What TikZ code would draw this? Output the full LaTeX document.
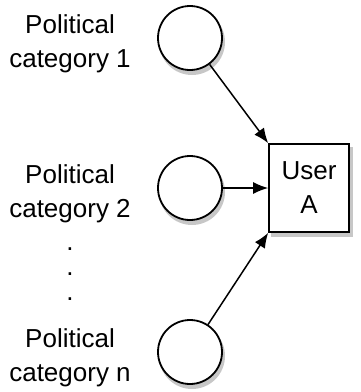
\documentclass[tikz,border=0pt]{standalone}
\usepackage{fontspec}
\setmainfont{Liberation Sans}
\usetikzlibrary{arrows.meta,backgrounds}
\tikzset{
  catlabel/.style={align=center,font=\fontsize{26}{34}\selectfont,inner sep=0pt},
  dotlabel/.style={font=\fontsize{26}{30}\selectfont,inner sep=0pt},
  shade/.style={fill=black!22},
  catnode/.style={circle,draw,line width=1.8pt,fill=white,minimum size=64pt,inner sep=0pt},
  userbox/.style={rectangle,draw,line width=1.6pt,fill=white,minimum width=80pt,minimum height=88pt,
    align=center,font=\fontsize{26}{34}\selectfont},
  link/.style={line width=1.5pt,-{Latex[length=15pt,width=12pt]}}
}
\begin{document}
\begin{tikzpicture}[x=1pt,y=-1pt]
\useasboundingbox (0,0) rectangle (361,392);
\def\cat#1#2#3{
\node [catlabel] (lab#1) at (70,#2+6) {Political\\category #3};
\node [catnode] (c#1) at (190,#2) {};
}
\cat{1}{38}{1}
\cat{2}{188}{2}
\cat{n}{352}{n}
% the dots between 2 and n
\node [dotlabel] (dota) at (70,249) {.};
\node [dotlabel] (dotb) at (70,274) {.};
\node [dotlabel] (dotc) at (70,299) {.};
\node [userbox] (user) at (309,188) {User\\A};
\draw [link] (c1) -- (user.north west);
\draw [link] (c2) -- (user.west);
\draw [link] (cn) -- (user.south west);
% shadows
\begin{scope}[on background layer]
\foreach \c in {c1,c2,cn}
  \fill [shade] ([shift={(2,4)}]\c.center) circle (33);
\fill [shade] ([shift={(3,4)}]user.north west) rectangle ([shift={(3,4)}]user.south east);
\end{scope}
\end{tikzpicture}
\end{document}
